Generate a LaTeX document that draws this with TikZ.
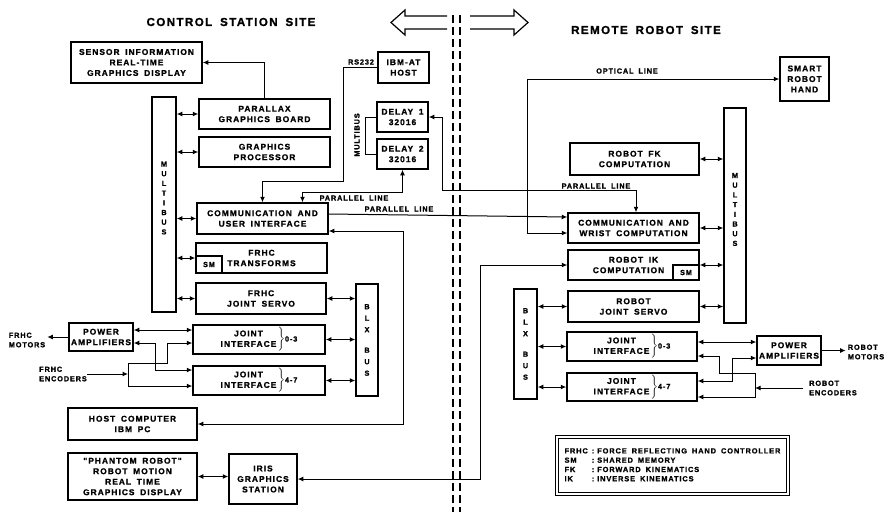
\documentclass[tikz,border=0pt]{standalone}
\usepackage{fontspec}
\usetikzlibrary{arrows.meta,calc}
\newfontfamily\lettering{Liberation Sans}[LetterSpace=12,WordSpace=1.7,BoldFeatures={FakeBold=1.2}]
\newcommand{\boxfont}{\lettering\bfseries\fontsize{8.4}{10.5}\selectfont}
\newcommand{\ttlfont}{\lettering\bfseries\fontsize{11.6}{14}\selectfont}
\newcommand{\smlfont}{\lettering\bfseries\fontsize{7.3}{9.5}\selectfont}
\newcommand{\busfont}{\lettering\bfseries\fontsize{7.3}{9.7}\selectfont}
\newcommand{\blxfont}{\lettering\bfseries\fontsize{7.3}{11.5}\selectfont}
\newcommand{\legfont}{\lettering\bfseries\fontsize{7.4}{9.3}\selectfont}
\newcommand{\jointtext}[1]{\begin{tabular}{@{}c@{}}JOINT\\INTERFACE\end{tabular}$\left.\rule[-9pt]{0pt}{21pt}\right\}${\smlfont #1}}

\begin{document}
\begin{tikzpicture}[x=1pt, y=-1pt,
  blk/.style={draw, line width=1.5pt, align=center, inner sep=0pt, font=\boxfont},
  smbox/.style={draw, line width=1.1pt, inner sep=0pt, font=\smlfont, minimum width=26pt, minimum height=16pt},
  bus/.style={draw, line width=1.5pt, inner sep=0pt, align=center, font=\blxfont},
  buslbl/.style={inner sep=0pt, align=center, font=\busfont},
  lbl/.style={inner sep=0pt, align=left, font=\smlfont},
  lnk/.style={line width=1pt},
  arr/.style={lnk, -{Latex[length=5.5pt,width=5pt]}},
  darr/.style={lnk, {Latex[length=5.5pt,width=5pt]}-{Latex[length=5.5pt,width=5pt]}},
  hollow/.style={line width=1.2pt, line join=miter},
  divider/.style={line width=1.8pt, dash pattern=on 8pt off 4pt}]
  \useasboundingbox (0,0) rectangle (888,512);
  % Site titles and link arrows
  \node[font=\ttlfont] (ttlL) at (231,22) {CONTROL STATION SITE};
  \node[font=\ttlfont] (ttlR) at (646,30) {REMOTE ROBOT SITE};
  \draw[hollow] (447,16) -- (405,16) -- (405,10) -- (391,22.5) -- (405,35) -- (405,29) -- (447,29);
  \draw[hollow] (470,16) -- (514,16) -- (514,10) -- (528,22.5) -- (514,35) -- (514,29) -- (470,29);
  % Site divider
  \draw[divider] (453,15) -- (453,512);
  \draw[divider] (460,15) -- (460,512);

  % Control station site
  \node[blk, minimum width=131pt, minimum height=41pt] (sensor) at (136.5,62.5) {SENSOR INFORMATION\\REAL-TIME\\GRAPHICS DISPLAY};
  \node[bus, minimum width=24pt, minimum height=215pt] (mbusL) at (164,204.5) {};
  \node[buslbl] (mbusLtxt) at (164,198) {M\\U\\L\\T\\I\\B\\U\\S};
  \node[blk, minimum width=131pt, minimum height=30pt] (par) at (264.5,114) {PARALLAX\\GRAPHICS BOARD};
  \node[blk, minimum width=131pt, minimum height=30pt] (gproc) at (264.5,152) {GRAPHICS\\PROCESSOR};
  \node[blk, minimum width=131pt, minimum height=31pt] (comm) at (262.5,218.5) {COMMUNICATION AND\\USER INTERFACE};
  \node[blk, minimum width=131pt, minimum height=30pt] (ftrans) at (261.5,258) {FRHC\\TRANSFORMS};
  \node[smbox, minimum height=17pt] (smL) at (209,264.5) {SM};
  \node[blk, minimum width=130pt, minimum height=31pt] (fservo) at (261,298.5) {FRHC\\JOINT SERVO};
  \node[bus, minimum width=22pt, minimum height=112pt] (blxL) at (367,340) {B\\L\\X\\[9pt]B\\U\\S};
  \node[blk, minimum width=64pt, minimum height=28pt] (pampL) at (101,337) {POWER\\AMPLIFIERS};
  \node[blk, minimum width=132pt, minimum height=29pt] (jiL1) at (259,339.5) {\jointtext{0-3}};
  \node[blk, minimum width=132pt, minimum height=29pt] (jiL2) at (259,380.5) {\jointtext{4-7}};
  \node[blk, minimum width=129pt, minimum height=32pt] (host) at (132.5,424) {HOST COMPUTER\\IBM PC};
  \node[blk, minimum width=129pt, minimum height=47pt] (phantom) at (132.5,476.5) {"PHANTOM ROBOT"\\ROBOT MOTION\\REAL TIME\\GRAPHICS DISPLAY};
  \node[blk, minimum width=68pt, minimum height=50pt] (iris) at (263,479) {IRIS\\GRAPHICS\\STATION};
  \node[blk, minimum width=51pt, minimum height=31pt] (ibmat) at (403.5,67.5) {IBM-AT\\HOST};
  \node[blk, minimum width=51pt, minimum height=30pt] (delay1) at (402.5,117) {DELAY 1\\32016};
  \node[blk, minimum width=51pt, minimum height=30pt] (delay2) at (402.5,154) {DELAY 2\\32016};
  \node[lbl] (fmot) at (27,340) {FRHC\\MOTORS};
  \node[lbl] (fenc) at (63,374) {FRHC\\ENCODERS};
  \coordinate (encL) at (128,374);

  % Remote robot site
  \node[blk, minimum width=49pt, minimum height=44pt] (hand) at (804.5,79) {SMART\\ROBOT\\HAND};
  \node[bus, minimum width=22pt, minimum height=215pt] (mbusR) at (735,215.5) {};
  \node[buslbl] (mbusRtxt) at (735,209.5) {M\\U\\L\\T\\I\\B\\U\\S};
  \node[blk, minimum width=129pt, minimum height=32pt] (fk) at (634.5,159) {ROBOT FK\\COMPUTATION};
  \node[blk, minimum width=131pt, minimum height=30pt] (cwrist) at (633.5,228) {COMMUNICATION AND\\WRIST COMPUTATION};
  \node[blk, minimum width=131pt, minimum height=30pt] (ik) at (633.5,265) {ROBOT IK\\COMPUTATION\hspace*{10pt}};
  \node[smbox, minimum height=15pt] (smR) at (686,272.5) {SM};
  \node[blk, minimum width=131pt, minimum height=31pt] (rservo) at (633.5,306.5) {ROBOT\\JOINT SERVO};
  \node[bus, minimum width=23pt, minimum height=110pt] (blxR) at (525.5,344) {B\\L\\X\\[9pt]B\\U\\S};
  \node[blk, minimum width=130pt, minimum height=29pt] (jiR1) at (632,346.5) {\jointtext{0-3}};
  \node[blk, minimum width=130pt, minimum height=28pt] (jiR2) at (632,387) {\jointtext{4-7}};
  \node[blk, minimum width=64pt, minimum height=29pt] (pampR) at (789,350.5) {POWER\\AMPLIFIERS};
  \node[lbl] (rmot) at (866,352) {ROBOT\\MOTORS};
  \node[lbl] (renc) at (833,388) {ROBOT\\ENCODERS};
  \coordinate (encR) at (755,388);

  % Legend
  \node[draw, double, double distance=2pt, line width=1.1pt, minimum width=231pt, minimum height=57pt,
        inner sep=0pt, font=\legfont] (legend) at (672.5,465.5)
    {\begin{tabular}{@{}l@{\hspace{4pt}}l@{\hspace{3pt}}l@{}}
      FRHC & : & FORCE REFLECTING HAND CONTROLLER\\
      SM & : & SHARED MEMORY\\
      FK & : & FORWARD KINEMATICS\\
      IK & : & INVERSE KINEMATICS
     \end{tabular}};

  % Line labels
  \node[lbl] (rslbl) at (361,62) {RS232};
  \node[lbl, rotate=90] (dmbus) at (357,135) {MULTIBUS};
  \node[lbl] (pline1) at (354,198) {PARALLEL LINE};
  \node[lbl] (pline2) at (399,209) {PARALLEL LINE};
  \node[lbl] (pline3) at (596,186) {PARALLEL LINE};
  \node[lbl] (optlbl) at (627,71) {OPTICAL LINE};

  % Bus links
  \foreach \b in {par,gproc,comm,ftrans,fservo}
    \draw[darr] (\b.west) -- (\b.west -| mbusL.east);
  \foreach \b in {fservo,jiL1,jiL2}
    \draw[darr] (\b.east) -- (\b.east -| blxL.west);
  \foreach \b in {fk,cwrist,ik,rservo}
    \draw[darr] (\b.east) -- (\b.east -| mbusR.west);
  \foreach \b in {rservo,jiR1,jiR2}
    \draw[darr] (\b.west) -- (\b.west -| blxR.east);

  % Control station wiring
  \draw[arr] (par.north) |- (sensor.east);
  \draw[arr] (ibmat.west) -| (343,181) -| (comm.north);
  \draw[lnk] (delay1.west) -| (365,154) -- (delay2.west);
  \draw[darr] (delay2.south) -- ++(0,23) -| ([xshift=40pt]comm.north);
  \draw[darr] (host.east) -| (403,231) -- ([yshift=-12.5pt]comm.east);
  \draw[darr] (phantom.east) -- (phantom.east -| iris.west);
  \draw[arr] (pampL.west) -- ([xshift=2pt]pampL.west -| fmot.east);
  \draw[darr] ([yshift=7pt]pampL.east) -- ([yshift=7pt]pampL.east -| jiL1.west);
  \draw[darr] ([yshift=-6pt]pampL.east) -- ++(22,0) |- ([yshift=10.5pt]jiL2.west);
  \draw[arr] (fenc.east) -- (encL);
  \draw[arr] (encL) |- (167,363) |- ([yshift=-3.5pt]jiL1.west);
  \draw[arr] (encL) |- ([yshift=-5.5pt]jiL2.west);

  % Links across the sites
  \draw[darr] (delay1.east) -| (442,190) -| ([xshift=2.5pt]cwrist.north);
  \draw[arr] ([yshift=4.5pt]comm.east) -- ([yshift=11pt]cwrist.west);
  \draw[darr] (hand.west) -| (527,233) -- ([yshift=-5pt]cwrist.west);
  \draw[darr] (iris.east) -| (480,265) -- (ik.west);

  % Remote robot wiring
  \draw[darr] ([yshift=4.5pt]jiR1.east) -- ([yshift=4.5pt]jiR1.east -| pampR.west);
  \draw[darr] ([yshift=-7.5pt]pampR.west) -- ++(-24,0) |- ([yshift=6pt]jiR2.east);
  \draw[arr] (pampR.east) -- ([xshift=-2pt]pampR.east -| rmot.west);
  \draw[arr] ([xshift=-6pt]renc.west) -- (encR);
  \draw[arr] (encR) |- (719,373) |- ([yshift=-9.5pt]jiR1.east);
  \draw[arr] (encR) |- ([yshift=-10pt]jiR2.east);
\end{tikzpicture}
\end{document}
